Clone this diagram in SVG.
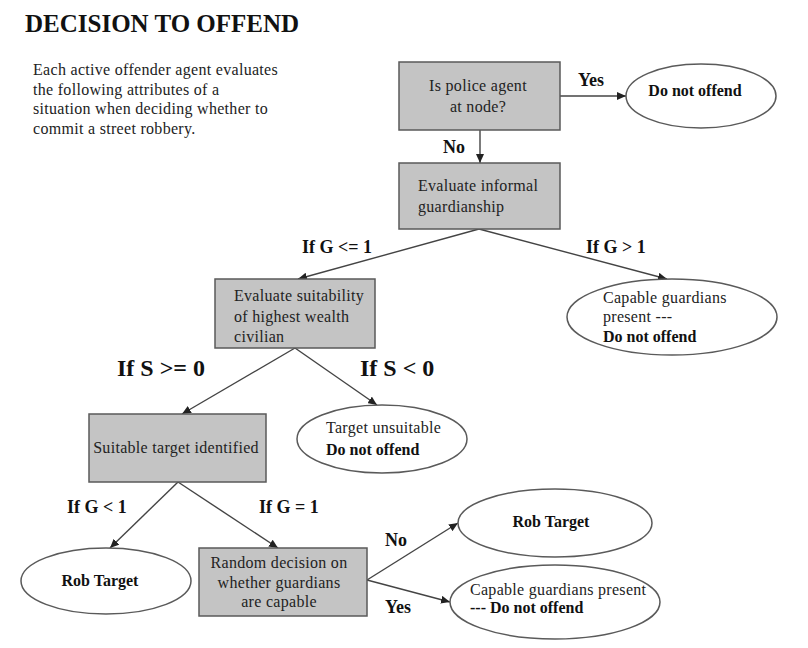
<svg xmlns="http://www.w3.org/2000/svg" width="808" height="648" viewBox="0 0 808 648" font-family="'Liberation Serif', 'DejaVu Serif', serif">
  <style>
    text { font-family: 'Liberation Serif', 'DejaVu Serif', serif; fill: #222; }
    .title { font-size: 25px; font-weight: bold; fill: #111; }
    .desc { font-size: 16px; letter-spacing: 0.3px; }
    .nt { font-size: 16px; letter-spacing: 0.3px; }
    .nb { font-size: 16px; font-weight: bold; fill: #111; }
    .lbl { font-size: 18px; font-weight: bold; fill: #111; }
    .lbig { font-size: 24px; font-weight: bold; fill: #111; }
    .box { fill: #c4c4c4; stroke: #5a5a5a; stroke-width: 1.5; }
    .ell { fill: #ffffff; stroke: #5a5a5a; stroke-width: 1.5; }
    .mid { text-anchor: middle; }
    .conn line { stroke: #444; stroke-width: 1.4; marker-end: url(#arr); }
  </style>
  <defs>
    <marker id="arr" markerUnits="userSpaceOnUse" markerWidth="9" markerHeight="8" refX="9" refY="4" orient="auto">
      <path d="M0,0 L9,4 L0,8 z" fill="#222"/>
    </marker>
  </defs>
  <rect x="0" y="0" width="808" height="648" fill="#ffffff"/>

  <text class="title" x="25" y="32">DECISION TO OFFEND</text>
  <g id="description">
    <text class="desc" x="33" y="75">Each active offender agent evaluates</text>
    <text class="desc" x="33" y="95">the following attributes of a</text>
    <text class="desc" x="33" y="114">situation when deciding whether to</text>
    <text class="desc" x="33" y="134">commit a street robbery.</text>
  </g>

  <g class="conn" id="connectors">
    <line x1="560" y1="96" x2="626" y2="96"/>
    <line x1="480" y1="130" x2="480" y2="163"/>
    <line x1="479" y1="229" x2="298" y2="279"/>
    <line x1="479" y1="229" x2="667" y2="279"/>
    <line x1="295" y1="348" x2="182" y2="414"/>
    <line x1="295" y1="348" x2="377" y2="405"/>
    <line x1="178" y1="482" x2="110" y2="548"/>
    <line x1="178" y1="482" x2="278" y2="548"/>
    <line x1="367" y1="580" x2="458" y2="523"/>
    <line x1="367" y1="580" x2="450" y2="602"/>
  </g>

  <g id="labels">
    <text class="lbl" x="578" y="86">Yes</text>
    <text class="lbl" x="443" y="153">No</text>
    <text class="lbl" x="302" y="253">If G &lt;= 1</text>
    <text class="lbl" x="586" y="253">If G &gt; 1</text>
    <text class="lbig" x="117" y="376">If S &gt;= 0</text>
    <text class="lbig" x="360" y="376">If S &lt; 0</text>
    <text class="lbl" x="67" y="513">If G &lt; 1</text>
    <text class="lbl" x="259" y="513">If G = 1</text>
    <text class="lbl" x="385" y="546">No</text>
    <text class="lbl" x="385" y="613">Yes</text>
  </g>

  <g id="police">
    <rect class="box" x="399" y="62" width="161" height="68"/>
    <text class="nt mid" x="478" y="91">Is police agent</text>
    <text class="nt mid" x="478" y="112">at node?</text>
  </g>
  <g id="noOffend1">
    <ellipse class="ell" cx="701" cy="96" rx="75" ry="32"/>
    <text class="nb mid" x="695" y="96">Do not offend</text>
  </g>
  <g id="guardianship">
    <rect class="box" x="399" y="163" width="161" height="66"/>
    <text class="nt" x="418" y="191">Evaluate informal</text>
    <text class="nt" x="418" y="212">guardianship</text>
  </g>
  <g id="suitability">
    <rect class="box" x="215" y="279" width="160" height="69"/>
    <text class="nt" x="234" y="301">Evaluate suitability</text>
    <text class="nt" x="234" y="322">of highest wealth</text>
    <text class="nt" x="234" y="342">civilian</text>
  </g>
  <g id="capable1">
    <ellipse class="ell" cx="672" cy="317" rx="105" ry="38"/>
    <text class="nt" x="603" y="303">Capable guardians</text>
    <text class="nt" x="603" y="322">present ---</text>
    <text class="nb" x="603" y="342">Do not offend</text>
  </g>
  <g id="unsuitable">
    <ellipse class="ell" cx="382" cy="439" rx="85" ry="34"/>
    <text class="nt" x="326" y="433">Target unsuitable</text>
    <text class="nb" x="326" y="455">Do not offend</text>
  </g>
  <g id="suitableTarget">
    <rect class="box" x="89" y="414" width="177" height="68"/>
    <text class="nt mid" x="176" y="453">Suitable target identified</text>
  </g>
  <g id="rob1">
    <ellipse class="ell" cx="106" cy="581" rx="85" ry="33"/>
    <text class="nb mid" x="100" y="586">Rob Target</text>
  </g>
  <g id="random">
    <rect class="box" x="199" y="548" width="168" height="68"/>
    <text class="nt mid" x="279" y="568">Random decision on</text>
    <text class="nt mid" x="279" y="588">whether guardians</text>
    <text class="nt mid" x="279" y="607">are capable</text>
  </g>
  <g id="rob2">
    <ellipse class="ell" cx="555" cy="523" rx="97" ry="34"/>
    <text class="nb mid" x="551" y="527">Rob Target</text>
  </g>
  <g id="capable2">
    <ellipse class="ell" cx="555" cy="602" rx="105" ry="37"/>
    <text class="nt" x="470" y="595">Capable guardians present</text>
    <text class="nb" x="470" y="613">--- Do not offend</text>
  </g>
</svg>
